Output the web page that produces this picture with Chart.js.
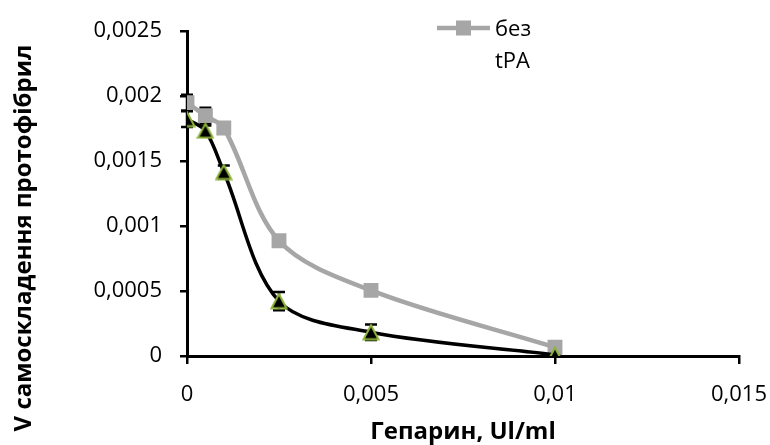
<!DOCTYPE html>
<html>
<head>
<meta charset="utf-8">
<script src="https://cdn.jsdelivr.net/npm/chart.js@4/dist/chart.umd.min.js"></script>
<style>
    html, body { margin: 0; padding: 0; background: #fff; }
    #wrap { width: 770px; height: 445px; position: relative; }
</style>
</head>
<body>
<div id="wrap"><canvas id="chart"></canvas></div>
<script>
const heparin = [0, 0.0005, 0.001, 0.0025, 0.005, 0.01];
const withoutTpa = [0.00195, 0.00185, 0.001755, 0.000887, 0.000505, 0.000067];
const withoutTpaErr = [0.00006, 0.00006, 0.00002, 0, 0, 0];
const withTpa = [0.001823, 0.001734, 0.001416, 0.000422, 0.000183, 0.00001];
const withTpaErr = [0.00006, 0.00004, 0.00005, 0.00007, 0.00006, 0.00001];

const xTicks = [0, 0.005, 0.01, 0.015];
const xTickLabels = ['0', '0,005', '0,01', '0,015'];
const yTicks = [0, 0.0005, 0.001, 0.0015, 0.002, 0.0025];
const yTickLabels = ['0', '0,0005', '0,001', '0,0015', '0,002', '0,0025'];

const xTitle = 'Гепарин, Ul/ml';
const yTitle = 'V самоскладення протофібрил';
const legendLines = ['без', 'tPA'];
const axisFont = '"Open Sans", "Liberation Sans", sans-serif';

// green-edged black triangles
const triangle = document.createElement('canvas');
triangle.width = 18; triangle.height = 17;
(function () {
    const c = triangle.getContext('2d');
    c.beginPath();
    c.moveTo(9, 1.5);
    c.lineTo(16.5, 15.5);
    c.lineTo(1.5, 15.5);
    c.closePath();
    c.fillStyle = '#000';
    c.fill();
    c.lineWidth = 2;
    c.strokeStyle = '#8DB43A';
    c.stroke();
})();

const errorBars = {
    id: 'errorBars',
    beforeDatasetsDraw(chart) {
        const ctx = chart.ctx;
        const xs = chart.scales.x, ys = chart.scales.y;
        ctx.save();
        ctx.strokeStyle = '#000';
        ctx.lineWidth = 2.5;
        chart.data.datasets.forEach(ds => {
            if (!ds.errors) return;
            ds.data.forEach((p, i) => {
                const e = ds.errors[i];
                if (!e) return;
                const x = xs.getPixelForValue(p.x);
                const top = ys.getPixelForValue(p.y + e);
                const bot = ys.getPixelForValue(p.y - e);
                ctx.beginPath();
                ctx.moveTo(x, top); ctx.lineTo(x, bot);
                ctx.moveTo(x - 6, top); ctx.lineTo(x + 6, top);
                ctx.moveTo(x - 6, bot); ctx.lineTo(x + 6, bot);
                ctx.stroke();
            });
        });
        ctx.restore();
    }
};

// axis titles and the single legend entry
const decorations = {
    id: 'decorations',
    afterDraw(chart) {
        const ctx = chart.ctx;
        ctx.save();
        ctx.fillStyle = '#000';
        ctx.font = 'bold 24px ' + axisFont;
        ctx.textAlign = 'center';
        ctx.textBaseline = 'middle';
        ctx.fillText(xTitle, 463, 432);
        ctx.save();
        ctx.translate(24, 238);
        ctx.rotate(-Math.PI / 2);
        ctx.fillText(yTitle, 0, 0);
        ctx.restore();

        const y = 28;
        ctx.strokeStyle = '#A6A6A6';
        ctx.lineWidth = 4.5;
        ctx.beginPath();
        ctx.moveTo(437, y); ctx.lineTo(490, y);
        ctx.stroke();
        ctx.fillStyle = '#A6A6A6';
        ctx.fillRect(456, y - 7.5, 15, 15);
        ctx.fillStyle = '#000';
        ctx.font = '22px ' + axisFont;
        ctx.textAlign = 'left';
        legendLines.forEach((t, i) => ctx.fillText(t, 495, y + 2 + i * 32));
        ctx.restore();
    }
};

new Chart(document.getElementById('chart'), {
    type: 'line',
    data: {
        datasets: [
            {
                label: 'без tPA',
                data: heparin.map((x, i) => ({ x, y: withoutTpa[i] })),
                errors: withoutTpaErr,
                borderColor: '#A6A6A6',
                backgroundColor: '#A6A6A6',
                borderWidth: 4.5,
                tension: 0.33,
                pointStyle: 'rect',
                pointRadius: 10.5,
                pointBorderWidth: 0,
                order: 2
            },
            {
                label: 'tPA',
                data: heparin.map((x, i) => ({ x, y: withTpa[i] })),
                errors: withTpaErr,
                borderColor: '#000',
                backgroundColor: '#000',
                borderWidth: 3.5,
                tension: 0.33,
                pointStyle: triangle,
                order: 1
            }
        ]
    },
    options: {
        responsive: true,
        maintainAspectRatio: false,
        animation: false,
        layout: { padding: { top: 28, right: 0, left: 0, bottom: 0 } },
        plugins: { legend: { display: false }, tooltip: { enabled: false } },
        scales: {
            x: {
                type: 'linear',
                min: 0,
                max: 0.015,
                afterBuildTicks: s => { s.ticks = xTicks.map(v => ({ value: v })); },
                afterFit: s => { s.height = 89; s.paddingRight = 31; s.paddingLeft = 0; },
                ticks: {
                    callback: (v, i) => xTickLabels[i],
                    color: '#000',
                    padding: 18,
                    maxRotation: 0,
                    font: { family: axisFont, size: 22 }
                },
                grid: { drawOnChartArea: false, drawTicks: true, tickLength: 8, color: '#000', lineWidth: 2.5 },
                border: { color: '#000', width: 3 }
            },
            y: {
                min: 0,
                max: 0.0025,
                afterBuildTicks: s => { s.ticks = yTicks.map(v => ({ value: v })); },
                afterFit: s => { s.width = 187; },
                ticks: {
                    callback: (v, i) => yTickLabels[i],
                    color: '#000',
                    padding: 18,
                    font: { family: axisFont, size: 22 }
                },
                grid: { drawOnChartArea: false, drawTicks: true, tickLength: 7, color: '#000', lineWidth: 2.5 },
                border: { color: '#000', width: 3 }
            }
        }
    },
    plugins: [errorBars, decorations]
});
</script>
</body>
</html>
